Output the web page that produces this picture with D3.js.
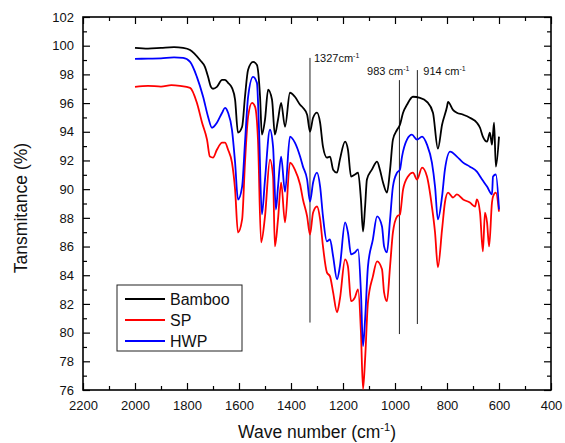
<!DOCTYPE html>
<html>
<head>
<meta charset="utf-8">
<script src="https://cdn.jsdelivr.net/npm/d3@7"></script>
<style>
  body { margin: 0; background: #fff; }
  svg { font-family: Arial, "Liberation Sans", Helvetica, sans-serif; }
</style>
</head>
<body>
<div id="chart"></div>
<script>
// FTIR spectra, [wave number, transmittance]
const bamboo = [
  [2000, 99.85], [1950, 99.8], [1900, 99.85], [1850, 99.9], [1815, 99.85], [1788, 99.7],
  [1750, 99.0], [1731, 98.52], [1719, 97.83], [1708, 97.13], [1700, 97.0], [1685, 97.13],
  [1665, 97.62], [1654, 97.62], [1642, 97.41], [1627, 97.06], [1615, 96.23], [1604, 93.94],
  [1588, 94.35], [1577, 96.44], [1565, 98.32], [1546, 98.87], [1531, 98.66], [1519, 96.44],
  [1512, 93.8], [1500, 94.84], [1488, 96.93], [1473, 96.23], [1462, 93.8], [1450, 94.84],
  [1438, 96.02], [1423, 94.35], [1404, 96.72], [1385, 96.44], [1365, 95.88], [1354, 95.67],
  [1338, 95.19], [1327, 94.0], [1315, 94.98], [1300, 95.33], [1288, 94.63], [1277, 92.96],
  [1262, 92.2], [1250, 92.27], [1238, 91.36], [1223, 91.15], [1212, 92.06], [1192, 93.31],
  [1181, 92.75], [1169, 90.88], [1154, 91.02], [1142, 91.15], [1131, 89.28], [1123, 87.05],
  [1115, 88.79], [1108, 90.67], [1089, 91.36], [1069, 91.92], [1058, 91.36], [1046, 90.46],
  [1031, 89.76], [1019, 91.36], [1008, 93.45], [992, 94.14], [981, 94.49], [969, 95.33],
  [954, 95.88], [931, 96.44], [904, 96.37], [877, 96.09], [854, 95.33], [835, 92.82],
  [819, 94.49], [800, 95.74], [796, 96.09], [777, 95.53], [762, 95.33], [738, 95.19],
  [712, 94.98], [685, 94.63], [673, 94.28], [662, 93.66], [646, 93.31], [635, 93.94],
  [627, 93.1], [619, 94.63], [612, 91.57], [600, 93.66]
];

const sp = [
  [2000, 97.13], [1950, 97.2], [1900, 97.15], [1860, 97.25], [1827, 97.2], [1788, 97.06],
  [1762, 96.02], [1742, 94.63], [1723, 93.45], [1712, 92.27], [1700, 92.2], [1685, 92.75],
  [1665, 93.24], [1654, 93.24], [1642, 92.75], [1627, 91.85], [1615, 89.97], [1604, 86.98],
  [1588, 87.89], [1577, 91.85], [1565, 95.05], [1550, 96.02], [1538, 95.74], [1527, 93.45],
  [1515, 86.29], [1500, 88.1], [1481, 92.06], [1469, 90.88], [1462, 86.01], [1450, 87.89],
  [1438, 90.46], [1423, 87.68], [1404, 91.85], [1385, 91.36], [1365, 90.32], [1354, 89.28],
  [1338, 88.1], [1327, 86.84], [1315, 88.37], [1300, 88.79], [1288, 87.89], [1277, 86.01],
  [1262, 84.2], [1250, 83.92], [1238, 82.81], [1223, 81.42], [1212, 82.33], [1192, 85.11],
  [1181, 84.62], [1169, 82.19], [1154, 82.46], [1142, 83.02], [1131, 80.03], [1123, 76.07],
  [1115, 78.15], [1104, 82.12], [1085, 83.92], [1069, 84.97], [1050, 84.41], [1042, 82.81],
  [1031, 82.19], [1019, 84.62], [1008, 86.98], [992, 88.1], [981, 88.24], [969, 89.97],
  [950, 90.88], [931, 91.15], [915, 90.67], [896, 91.5], [877, 90.88], [858, 88.79],
  [846, 86.98], [835, 84.55], [819, 87.19], [808, 89.07], [796, 89.76], [777, 89.42],
  [762, 89.63], [738, 89.28], [712, 89.07], [692, 88.79], [685, 89.28], [673, 88.37],
  [662, 85.66], [654, 88.37], [646, 87.68], [638, 86.01], [627, 89.07], [623, 89.49],
  [612, 89.76], [600, 88.44]
];

const hwp = [
  [2000, 99.08], [1950, 99.1], [1900, 99.12], [1850, 99.18], [1815, 99.15], [1788, 98.87],
  [1762, 97.83], [1738, 96.44], [1719, 95.05], [1704, 94.28], [1685, 94.63], [1665, 95.33],
  [1654, 95.67], [1642, 95.33], [1627, 94.14], [1615, 91.85], [1604, 89.28], [1588, 90.18],
  [1577, 93.24], [1565, 96.44], [1546, 97.83], [1531, 97.41], [1523, 94.14], [1512, 88.24],
  [1500, 90.67], [1481, 94.14], [1469, 92.96], [1458, 88.58], [1450, 90.18], [1438, 92.27],
  [1423, 89.83], [1404, 93.66], [1385, 93.24], [1365, 92.27], [1354, 91.57], [1338, 90.67],
  [1327, 89.14], [1315, 90.46], [1300, 91.15], [1288, 90.18], [1277, 88.1], [1262, 86.36],
  [1250, 86.5], [1238, 85.32], [1223, 83.72], [1212, 84.62], [1192, 87.68], [1181, 86.98],
  [1169, 85.45], [1154, 85.59], [1142, 85.8], [1131, 82.81], [1123, 79.06], [1115, 80.94],
  [1104, 84.62], [1085, 86.5], [1069, 88.1], [1050, 87.4], [1042, 86.01], [1031, 85.59],
  [1019, 87.89], [1008, 90.18], [992, 91.15], [981, 91.36], [973, 92.27], [954, 93.45],
  [935, 93.8], [915, 93.45], [896, 93.66], [877, 93.1], [858, 91.85], [846, 90.18],
  [835, 87.89], [819, 89.49], [808, 91.36], [788, 92.61], [762, 92.27], [738, 91.85],
  [712, 91.57], [685, 91.22], [665, 90.67], [646, 90.18], [627, 89.63], [623, 90.88],
  [612, 91.02], [600, 88.58]
];

const seriesNames = ['Bamboo', 'SP', 'HWP'];
const seriesColors = ['#000000', '#ff0000', '#0000ff'];

// marker lines: wave number, bottom, top, label
const markerWaves = [1327, 983, 914];
const markerBottoms = [80.7, 79.9, 80.6];
const markerTops = [99.15, 97.6, 98.3];
const markerLabels = ['1327cm', '983 cm', '914 cm'];

const xTicks = [2200, 2000, 1800, 1600, 1400, 1200, 1000, 800, 600, 400];
const yTicks = [76, 78, 80, 82, 84, 86, 88, 90, 92, 94, 96, 98, 100, 102];

const width = 565;
const height = 443;
const margin = { top: 17, right: 14, bottom: 53, left: 83 };

const svg = d3.select('#chart')
  .append('svg')
  .attr('width', width)
  .attr('height', height);

const x = d3.scaleLinear()
  .domain([2200, 400])
  .range([margin.left, width - margin.right]);

const y = d3.scaleLinear()
  .domain([76, 102])
  .range([height - margin.bottom, margin.top]);

const x0 = x.range()[0], x1 = x.range()[1];
const y0 = y.range()[0], y1 = y.range()[1];

// clip spectra to the frame
svg.append('clipPath')
  .attr('id', 'plot-clip')
  .append('rect')
  .attr('x', x0)
  .attr('y', y1)
  .attr('width', x1 - x0)
  .attr('height', y0 - y1 + 1);

// ticks, all pointing inward
const bottomAxis = d3.axisBottom(x).tickValues(xTicks).tickSize(-7).tickPadding(11).tickFormat(d3.format('d'));
const topAxis = d3.axisTop(x).tickValues(xTicks).tickSize(-7).tickFormat('');
const leftAxis = d3.axisLeft(y).tickValues(yTicks).tickSize(-7).tickPadding(9);
const rightAxis = d3.axisRight(y).tickValues(yTicks).tickSize(-7).tickFormat('');

const minorX = d3.range(2100, 400, -200);
const minorY = d3.range(77, 102, 2);

function styleAxis(g) {
  g.select('.domain').remove();
  g.selectAll('.tick line').attr('stroke', '#000').attr('stroke-width', 1.2);
  g.selectAll('.tick text').attr('fill', '#111').attr('font-size', '13px');
}

svg.append('g')
  .attr('transform', `translate(0,${y0})`)
  .call(bottomAxis)
  .call(styleAxis);

svg.append('g')
  .attr('transform', `translate(0,${y1})`)
  .call(topAxis)
  .call(styleAxis);

svg.append('g')
  .attr('transform', `translate(${x0},0)`)
  .call(leftAxis)
  .call(styleAxis);

svg.append('g')
  .attr('transform', `translate(${x1},0)`)
  .call(rightAxis)
  .call(styleAxis);

svg.append('g').attr('transform', `translate(0,${y0})`)
  .call(d3.axisBottom(x).tickValues(minorX).tickSize(-4).tickFormat(''))
  .call(styleAxis);
svg.append('g').attr('transform', `translate(0,${y1})`)
  .call(d3.axisTop(x).tickValues(minorX).tickSize(-4).tickFormat(''))
  .call(styleAxis);
svg.append('g').attr('transform', `translate(${x0},0)`)
  .call(d3.axisLeft(y).tickValues(minorY).tickSize(-4).tickFormat(''))
  .call(styleAxis);
svg.append('g').attr('transform', `translate(${x1},0)`)
  .call(d3.axisRight(y).tickValues(minorY).tickSize(-4).tickFormat(''))
  .call(styleAxis);

// frame
svg.append('rect')
  .attr('x', x0)
  .attr('y', y1)
  .attr('width', x1 - x0)
  .attr('height', y0 - y1)
  .attr('fill', 'none')
  .attr('stroke', '#000')
  .attr('stroke-width', 1.6);

// marker lines
markerWaves.forEach((w, i) => {
  svg.append('line')
    .attr('x1', x(w))
    .attr('x2', x(w))
    .attr('y1', y(markerBottoms[i]))
    .attr('y2', y(markerTops[i]))
    .attr('stroke', '#222')
    .attr('stroke-width', 1);
});

function markerLabel(tx, ty, anchor, label) {
  const t = svg.append('text')
    .attr('x', tx)
    .attr('y', ty)
    .attr('text-anchor', anchor)
    .attr('font-size', '11px')
    .attr('fill', '#111');
  t.append('tspan').text(label);
  t.append('tspan').attr('dy', -4).attr('font-size', '7px').text('-1');
}

markerLabel(x(markerWaves[0]) + 4, y(markerTops[0]) + 4, 'start', markerLabels[0]);
markerLabel(x(markerWaves[1]) + 10, y(markerTops[1]) - 5, 'end', markerLabels[1]);
markerLabel(x(markerWaves[2]) + 6, y(markerTops[2]) + 5, 'start', markerLabels[2]);

// spectra
const line = d3.line()
  .x(d => x(d[0]))
  .y(d => y(d[1]))
  .curve(d3.curveMonotoneX);

const plot = svg.append('g').attr('clip-path', 'url(#plot-clip)');

[bamboo, sp, hwp].forEach((data, i) => {
  plot.append('path')
    .datum(data)
    .attr('fill', 'none')
    .attr('stroke', seriesColors[i])
    .attr('stroke-width', 1.8)
    .attr('stroke-linejoin', 'round')
    .attr('d', line);
});

// axis titles
const xTitle = svg.append('text')
  .attr('x', (x0 + x1) / 2)
  .attr('y', 438)
  .attr('text-anchor', 'middle')
  .attr('font-size', '17.5px')
  .attr('fill', '#111');
xTitle.append('tspan').text('Wave number (cm');
xTitle.append('tspan').attr('dy', -7).attr('font-size', '11px').text('-1');
xTitle.append('tspan').attr('dy', 7).text(')');

svg.append('text')
  .attr('transform', `translate(27,208) rotate(-90)`)
  .attr('text-anchor', 'middle')
  .attr('font-size', '17.5px')
  .attr('fill', '#111')
  .text('Tansmitance (%)');

// legend
const legend = svg.append('g').attr('transform', 'translate(117,285)');

legend.append('rect')
  .attr('width', 125)
  .attr('height', 66)
  .attr('fill', '#fff')
  .attr('stroke', '#222')
  .attr('stroke-width', 1);

seriesNames.forEach((name, i) => {
  const row = legend.append('g').attr('transform', `translate(0,${14 + i * 21})`);
  row.append('line')
    .attr('x1', 8)
    .attr('x2', 48)
    .attr('stroke', seriesColors[i])
    .attr('stroke-width', 1.8);
  row.append('text')
    .attr('x', 53)
    .attr('y', 6)
    .attr('font-size', '16px')
    .attr('fill', '#111')
    .text(name);
});
</script>
</body>
</html>
